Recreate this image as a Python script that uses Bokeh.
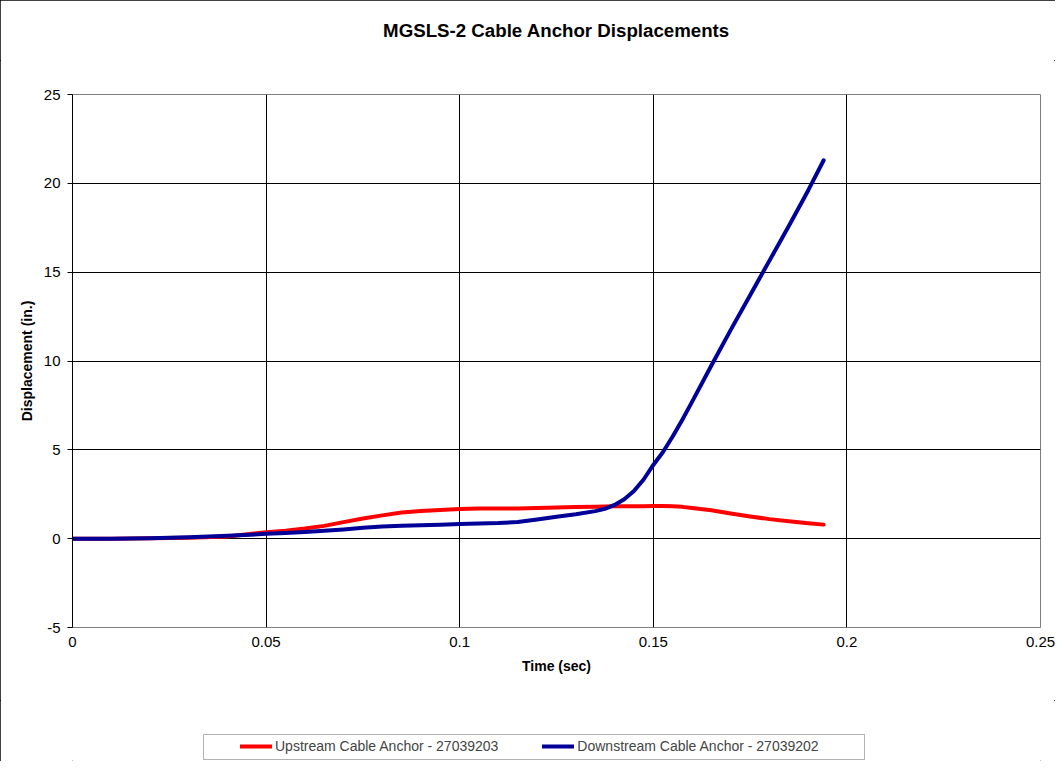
import numpy as np
from bokeh.plotting import figure
from bokeh.layouts import column
from bokeh.models import (ColumnDataSource, Range1d, FixedTicker, NumeralTickFormatter,
                          Legend, LegendItem, BoxAnnotation)
from bokeh.embed import file_html
from bokeh.resources import INLINE

# ---- data ----
time_s = [0, 0.01, 0.02, 0.03, 0.04, 0.05, 0.055, 0.06, 0.065, 0.07, 0.075, 0.08,
          0.085, 0.09, 0.095, 0.10, 0.105, 0.11, 0.115, 0.12, 0.125, 0.13, 0.135,
          0.1375, 0.14, 0.1425, 0.145, 0.1475, 0.15, 0.1525, 0.155, 0.1575, 0.16,
          0.165, 0.17, 0.175, 0.18, 0.185, 0.19, 0.194]
upstream = [0, 0.0, 0.02, 0.05, 0.12, 0.36, 0.45, 0.57, 0.72, 0.93, 1.13, 1.31,
            1.47, 1.56, 1.62, 1.67, 1.70, 1.70, 1.70, 1.73, 1.75, 1.78, 1.80,
            1.81, 1.82, 1.82, 1.83, 1.83, 1.84, 1.84, 1.83, 1.79, 1.73,
            1.60, 1.42, 1.25, 1.10, 0.98, 0.87, 0.79]
downstream = [0, 0.0, 0.02, 0.08, 0.16, 0.27, 0.32, 0.37, 0.44, 0.52, 0.61, 0.69,
              0.73, 0.76, 0.78, 0.82, 0.85, 0.88, 0.94, 1.08, 1.23, 1.37, 1.55,
              1.68, 1.90, 2.22, 2.68, 3.33, 4.15, 4.88, 5.75, 6.70, 7.70,
              9.75, 11.75, 13.7, 15.65, 17.6, 19.6, 21.3]
x_ticks = [0, 0.05, 0.1, 0.15, 0.2, 0.25]
y_ticks = [-5, 0, 5, 10, 15, 20, 25]
series_names = ["Upstream Cable Anchor - 27039203", "Downstream Cable Anchor - 27039202"]
title_text = "MGSLS-2 Cable Anchor Displacements"

FONT = "Liberation Sans"
RED = "#FF0000"
NAVY = "#000099"

src = ColumnDataSource(dict(t=time_s, up=upstream, down=downstream))

W = 1055
BL, BR = 72, 15
TH = 60   # title strip height
LH = 61   # legend strip height


def strip(height, **kw):
    f = figure(width=W, height=height, output_backend="svg", toolbar_location=None,
               x_axis_type=None, y_axis_type=None,
               min_border_left=BL, min_border_right=BR, min_border_top=0, min_border_bottom=0,
               background_fill_color="white", border_fill_color="white", **kw)
    f.outline_line_color = None
    f.xgrid.visible = False
    f.ygrid.visible = False
    return f


# ---- title strip ----
pt = strip(TH, title=title_text)
pt.title.text_font = FONT
pt.title.text_font_size = "18.7px"
pt.title.text_font_style = "bold"
pt.title.text_color = "black"
pt.title.align = "center"
pt.title.vertical_align = "bottom"
pt.title.standoff = 34

# ---- main plot ----
p = figure(width=W, height=700 - TH, output_backend="svg", toolbar_location=None, title=None,
           x_range=Range1d(0, 0.25), y_range=Range1d(-5, 25),
           min_border_left=BL, min_border_right=BR, min_border_top=94 - TH, min_border_bottom=73,
           background_fill_color="white", border_fill_color="white")
p.outline_line_color = "#808080"
p.outline_line_width = 1

p.xaxis.ticker = FixedTicker(ticks=x_ticks)
p.xaxis.formatter = NumeralTickFormatter(format="0.[00]")
p.yaxis.ticker = FixedTicker(ticks=y_ticks)
p.yaxis.major_label_overrides = {-5: "-5"}
for ax in (p.xaxis[0], p.yaxis[0]):
    ax.major_label_text_font = FONT
    ax.major_label_text_font_size = "15px"
    ax.major_label_text_color = "black"
    ax.axis_label_text_font = FONT
    ax.axis_label_text_font_size = "14px"
    ax.axis_label_text_font_style = "bold"
    ax.axis_label_text_color = "black"
    ax.minor_tick_line_color = None

p.xaxis.axis_label = "Time (sec)"
p.xaxis.axis_line_color = None
p.xaxis.major_tick_line_color = None
p.xaxis.major_tick_out = 0
p.xaxis.major_tick_in = 0
p.xaxis.major_label_standoff = 9
p.xaxis.axis_label_standoff = 8

p.yaxis.axis_label = "Displacement (in.)"
p.yaxis.axis_line_color = "black"
p.yaxis.major_tick_line_color = "black"
p.yaxis.major_tick_out = 5
p.yaxis.major_tick_in = 0
p.yaxis.major_label_standoff = 7
p.yaxis.axis_label_standoff = 6

p.xgrid.ticker = FixedTicker(ticks=x_ticks[1:-1])
p.ygrid.ticker = FixedTicker(ticks=y_ticks[1:-1])
p.xgrid.grid_line_color = "black"
p.ygrid.grid_line_color = "black"

p.line("t", "up", source=src, line_color=RED, line_width=4, line_cap="round", line_join="round")
p.line("t", "down", source=src, line_color=NAVY, line_width=4, line_cap="round", line_join="round")

# ---- legend strip (x in page pixels: frame aligned with main plot) ----
pl = strip(LH, x_range=Range1d(BL, W - BR), y_range=Range1d(LH, 0))

dummy = ColumnDataSource(dict(x=np.array([np.nan]), y=np.array([np.nan])))
l_up = pl.line("x", "y", source=dummy, line_color=RED, line_width=4, line_cap="round")
l_down = pl.line("x", "y", source=dummy, line_color=NAVY, line_width=4, line_cap="round")

box = BoxAnnotation(left=203, right=864, top=34, bottom=59,
                    fill_alpha=0, line_color="black", line_width=1)
pl.add_layout(box)

legend = Legend(items=[LegendItem(label=series_names[0], renderers=[l_up]),
                       LegendItem(label=series_names[1], renderers=[l_down])],
                orientation="horizontal", location=(243 - 4 - BL + 1, 7),
                label_text_font=FONT, label_text_font_size="14px",
                glyph_width=32, glyph_height=14, label_standoff=3, spacing=44,
                padding=4, margin=0, border_line_color=None,
                background_fill_alpha=0)
pl.add_layout(legend, "center")

layout = column(pt, p, pl, spacing=0,
                styles={"outline": "1px solid black", "outline-offset": "-1px"})

open("out.html", "w").write(file_html(layout, INLINE))
